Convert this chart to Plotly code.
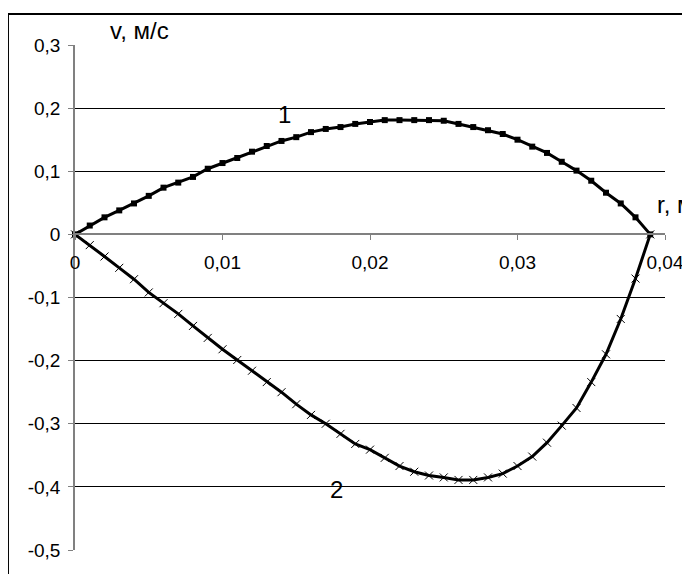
import plotly.graph_objects as go

r = [i / 1000 for i in range(40)]  # 0 .. 0.039 m, step 0.001

v1 = [0, 0.014, 0.027, 0.038, 0.049, 0.061, 0.074, 0.082, 0.091, 0.104,
      0.113, 0.121, 0.131, 0.140, 0.148, 0.154, 0.162, 0.167, 0.170, 0.175,
      0.178, 0.181, 0.181, 0.181, 0.181, 0.180, 0.175, 0.170, 0.165, 0.159,
      0.150, 0.139, 0.129, 0.115, 0.101, 0.085, 0.066, 0.049, 0.027, 0]

v2 = [0, -0.017, -0.035, -0.053, -0.071, -0.092, -0.109, -0.126, -0.145, -0.164,
      -0.182, -0.199, -0.216, -0.234, -0.250, -0.269, -0.286, -0.300, -0.316, -0.332,
      -0.341, -0.354, -0.367, -0.376, -0.382, -0.385, -0.389, -0.389, -0.385, -0.379,
      -0.367, -0.352, -0.330, -0.303, -0.275, -0.234, -0.190, -0.134, -0.070, 0]

x_tickvals = [0, 0.01, 0.02, 0.03, 0.04]
x_ticktext = ["0", "0,01", "0,02", "0,03", "0,04"]
y_tickvals = [0.3, 0.2, 0.1, 0, -0.1, -0.2, -0.3, -0.4, -0.5]
y_ticktext = ["0,3", "0,2", "0,1", "0", "-0,1", "-0,2", "-0,3", "-0,4", "-0,5"]

FONT = "Liberation Sans, Arial, sans-serif"
LABEL = dict(family=FONT, size=24, color="black")

fig = go.Figure()
fig.add_trace(go.Scatter(x=r, y=v1, mode="lines+markers",
                         line=dict(color="black", width=3),
                         marker=dict(symbol="square", size=6, color="black"),
                         cliponaxis=False, showlegend=False))
fig.add_trace(go.Scatter(x=r, y=v2, mode="lines+markers",
                         line=dict(color="black", width=3),
                         marker=dict(symbol="x-thin", size=8, color="black",
                                     line=dict(color="black", width=1)),
                         cliponaxis=False, showlegend=False))

fig.update_layout(
    width=690, height=574,
    margin=dict(l=67, r=33, t=37, b=32),
    paper_bgcolor="white", plot_bgcolor="white",
    font=dict(family=FONT, size=19, color="black"),
    xaxis=dict(range=[0, 0.04], tickvals=x_tickvals, ticktext=x_ticktext,
               showgrid=False, zeroline=False, showline=True,
               linecolor="#808080", linewidth=1.5,
               ticks="outside", ticklen=5, tickcolor="#808080",
               ticklabelstandoff=6,
               anchor="free", position=0.625),
    yaxis=dict(range=[-0.5, 0.3], tickvals=y_tickvals, ticktext=y_ticktext,
               showgrid=True, gridcolor="black", gridwidth=1,
               zeroline=False, showline=True,
               linecolor="#808080", linewidth=1.5,
               ticks="outside", ticklen=5, tickcolor="#808080",
               ticklabelstandoff=4),
    annotations=[
        dict(text="v, м/с", xref="paper", yref="paper", x=0.11, y=1.028,
             showarrow=False, xanchor="center", yanchor="middle", font=LABEL),
        dict(text="r, м", xref="x", yref="y", x=0.0393, y=0.047,
             showarrow=False, xanchor="left", yanchor="middle", font=LABEL),
        dict(text="1", xref="x", yref="y", x=0.01417, y=0.19,
             showarrow=False, xanchor="center", yanchor="middle", font=LABEL),
        dict(text="2", xref="x", yref="y", x=0.01776, y=-0.404,
             showarrow=False, xanchor="center", yanchor="middle", font=LABEL),
    ],
    shapes=[
        dict(type="rect", xref="paper", yref="paper",
             x0=-0.1136, x1=1.25, y0=-0.2, y1=1.0614,
             line=dict(color="black", width=2), fillcolor="rgba(0,0,0,0)",
             layer="below"),
    ],
)

fig.write_html("out.html")
